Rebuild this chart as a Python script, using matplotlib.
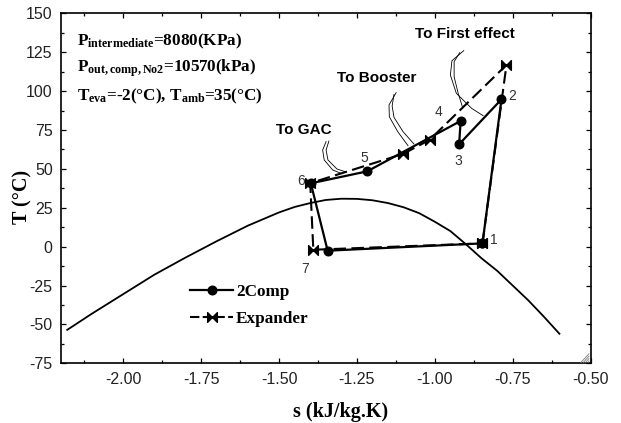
import matplotlib
matplotlib.use("Agg")
import matplotlib.pyplot as plt
from matplotlib.path import Path
from matplotlib.lines import Line2D

plt.rcParams['mathtext.fontset'] = 'custom'
plt.rcParams['mathtext.rm'] = 'Liberation Serif:bold'
plt.rcParams['mathtext.bf'] = 'Liberation Serif:bold'
plt.rcParams['mathtext.it'] = 'Liberation Serif:bold'

# Saturation dome of CO2 (T-s)
dome_s = [-2.18, -2.10, -2.00, -1.90, -1.80, -1.70, -1.60, -1.50, -1.45, -1.40,
          -1.35, -1.30, -1.25, -1.20, -1.15, -1.10, -1.05, -1.00, -0.95, -0.90,
          -0.85, -0.80, -0.75, -0.70, -0.65, -0.60]
dome_T = [-53.5, -43.0, -30.5, -18.0, -7.0, 3.5, 13.5, 22.0, 25.5, 28.0,
          30.0, 30.8, 30.7, 29.8, 28.0, 25.3, 21.5, 16.0, 10.0, 1.5,
          -7.5, -15.5, -25.0, -34.5, -45.0, -56.0]

# Two-stage compression cycle, states 1..7 and back to 1
comp_s = [-0.847, -0.786, -0.922, -0.917, -1.217, -1.398, -1.344, -0.847]
comp_T = [2.1, 94.7, 65.8, 80.8, 48.4, 40.7, -2.6, 2.1]
state_labels = ['1', '2', '3', '4', '5', '6', '7']

# Cycle with expander
exp_s = [-0.847, -0.770, -1.017, -1.102, -1.400, -1.390, -0.847]
exp_T = [2.1, 116.8, 68.6, 59.6, 40.8, -2.0, 2.1]

# Side-stream callouts (pairs of thin guide lines), data coordinates
callouts = {
    'To First effect': ([-0.907, -0.945, -0.950, -0.931, -0.882, -0.845],
                        [126.0, 119.5, 110.3, 98.6, 88.9, 84.2],
                        [-0.920, -0.938, -0.938, -0.925, -0.911],
                        [124.7, 118.9, 109.2, 98.6, 89.6]),
    'To Booster': ([-1.124, -1.147, -1.146, -1.119, -1.086],
                   [99.0, 91.1, 83.5, 73.9, 64.9],
                   [-1.131, -1.137, -1.131, -1.102, -1.067],
                   [97.9, 90.4, 83.1, 73.9, 66.0]),
    'To GAC': ([-1.349, -1.360, -1.355, -1.328, -1.301],
               [67.5, 62.1, 55.7, 49.3, 47.1],
               [-1.340, -1.349, -1.343, -1.314, -1.285],
               [67.9, 62.1, 55.7, 49.9, 48.0]),
}
callout_text_pos = {
    'To First effect': (-0.905, 137.0),
    'To Booster': (-1.188, 108.2),
    'To GAC': (-1.421, 75.0),
}

xticks = [-2.00, -1.75, -1.50, -1.25, -1.00, -0.75, -0.50]
yticks = [-75, -50, -25, 0, 25, 50, 75, 100, 125, 150]

bowtie = Path([(-1, -1), (0, 0), (-1, 1), (-1, -1),
               (1, -1), (0, 0), (1, 1), (1, -1)],
              [Path.MOVETO, Path.LINETO, Path.LINETO, Path.CLOSEPOLY,
               Path.MOVETO, Path.LINETO, Path.LINETO, Path.CLOSEPOLY])

fig = plt.figure(figsize=(6.21, 4.23), dpi=100)
ax = fig.add_axes([0.0982, 0.1411, 0.8528, 0.8275])

ax.plot(dome_s, dome_T, color='black', lw=1.3, zorder=2)
ax.plot(comp_s, comp_T, color='black', lw=1.6, marker='o', ms=6.2,
        zorder=3)
ax.plot(exp_s, exp_T, color='black', lw=1.5, dashes=(6, 2.6),
        marker=bowtie, ms=7, zorder=3)

for name, (xa, ya, xb, yb) in callouts.items():
    ax.plot(xa, ya, color='black', lw=0.6, zorder=4)
    ax.plot(xb, yb, color='black', lw=0.6, zorder=4)
    tx, ty = callout_text_pos[name]
    ax.text(tx, ty, name, ha='center', va='center', fontsize=11,
            fontweight='bold', family='Liberation Sans')

label_offsets = [(0.035, 2), (0.035, 2), (-0.002, -10.5), (-0.07, 5.5),
                 (-0.008, 8.4), (-0.032, 1.5), (-0.072, -11.5)]
for lab, s, T, (dx, dy) in zip(state_labels, comp_s, comp_T, label_offsets):
    ax.text(s + dx, T + dy, lab, ha='center', va='center', fontsize=10,
            family='Liberation Sans', color='#333333')

serif = 'Liberation Serif'
ax.text(-2.150, 131.7, r'P$_{\mathbf{intermediate}}$=8080(KPa)',
        fontsize=12.3, fontweight='bold', family=serif, va='center')
ax.text(-2.150, 115.0, r'P$_{\mathbf{out,comp,No2}}$=10570(kPa)',
        fontsize=12.3, fontweight='bold', family=serif, va='center')
ax.text(-2.150, 96.7,
        r'T$_{\mathbf{eva}}$=-2(°C), T$_{\mathbf{amb}}$=35(°C)',
        fontsize=12.3, fontweight='bold', family=serif, va='center')

handles = [
    Line2D([], [], color='black', lw=1.6, marker='o', ms=6.2),
    Line2D([], [], color='black', lw=1.5, dashes=(4.5, 1.6),
           marker=bowtie, ms=7),
]
ax.legend(handles, ['2Comp', 'Expander'], loc='upper left',
          bbox_to_anchor=(0.231, 0.247), frameon=False,
          prop={'family': serif, 'weight': 'bold', 'size': 12.3},
          handlelength=2.5, handletextpad=0.18, labelspacing=0.68,
          borderaxespad=0)

# window resize grip in the lower-right corner
for k in range(1, 5):
    ax.plot([1 - 0.0045 * k, 0.997], [0.003, 0.0068 * k],
            transform=ax.transAxes, color='#8c8c8c', lw=0.7,
            clip_on=False, zorder=5)

ax.set_xlim(-2.2, -0.5)
ax.set_ylim(-75, 150)
ax.set_xticks(xticks)
ax.set_xticklabels([f'{v:.2f}' for v in xticks])
ax.set_yticks(yticks)
ax.set_yticklabels([str(v) for v in yticks])
ax.set_xticks([v + 0.125 for v in [-2.25] + xticks[:-1]], minor=True)
ax.set_yticks([v + 12.5 for v in yticks[:-1]], minor=True)
ax.tick_params(which='both', direction='in', top=True, right=True,
               width=0.9, colors='black')
ax.tick_params(which='major', length=3.5, labelsize=11.5, pad=6,
               labelcolor='#222222')
ax.tick_params(which='minor', length=2.2)
for lab in ax.get_xticklabels() + ax.get_yticklabels():
    lab.set_family('Liberation Sans')
for sp in ax.spines.values():
    sp.set_linewidth(1.2)

ax.set_xlabel('s (kJ/kg.K)', fontsize=14.5, fontweight='bold', family=serif)
ax.set_ylabel('T (°C)', fontsize=14.5, fontweight='bold', family=serif)
ax.xaxis.set_label_coords(0.527, -0.1106)
ax.yaxis.set_label_coords(-0.053, 0.475)

fig.savefig('out.png', dpi=100)
